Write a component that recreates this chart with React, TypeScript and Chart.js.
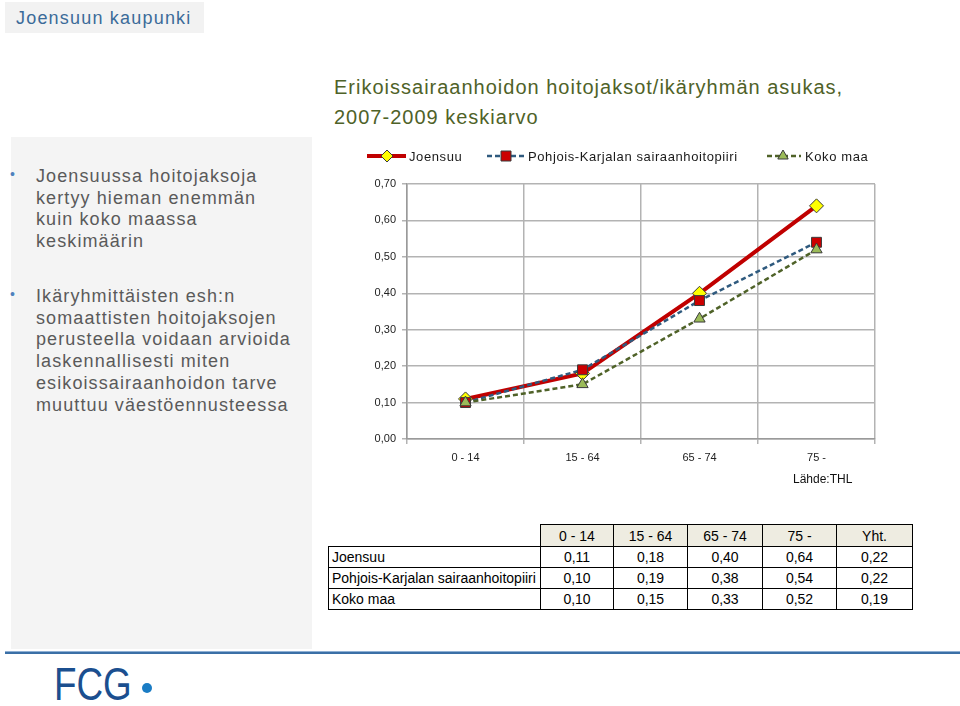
import React, { useEffect, useRef } from 'react';
import { Chart, registerables } from 'chart.js';

Chart.register(...registerables);

// ---------- data ----------
const categories = ['0 - 14', '15 - 64', '65 - 74', '75 -'];
const seriesNames = ['Joensuu', 'Pohjois-Karjalan sairaanhoitopiiri', 'Koko maa'];
const joensuuValues = [0.11, 0.18, 0.4, 0.64];
const pohjoisValues = [0.1, 0.19, 0.38, 0.54];
const kokoMaaValues = [0.1, 0.15, 0.33, 0.52];
const totalLabel = 'Yht.';
const joensuuTotal = 0.22;
const pohjoisTotal = 0.22;
const kokoMaaTotal = 0.19;
const yMin = 0;
const yMax = 0.7;
const yStep = 0.1;

const titleLines = ['Erikoissairaanhoidon hoitojaksot/ikäryhmän asukas,', '2007-2009 keskiarvo'];
const bullet1 = ['Joensuussa hoitojaksoja', 'kertyy hieman enemmän', 'kuin koko maassa', 'keskimäärin'];
const bullet2 = [
  'Ikäryhmittäisten esh:n',
  'somaattisten hoitojaksojen',
  'perusteella voidaan arvioida',
  'laskennallisesti miten',
  'esikoissairaanhoidon tarve',
  'muuttuu väestöennusteessa',
];
const sourceText = 'Lähde:THL';
const headerText = 'Joensuun kaupunki';

const fmt = (v: number) => v.toFixed(2).replace('.', ',');

const RED = '#c00000';
const BLUE_DASH = '#2f5a7e';
const OLIVE_DASH = '#4f6228';
const YELLOW = '#ffff00';
const SQ_RED = '#cc0000';
const TRI_GREEN = '#9bbb59';
const MARK_BORDER = '#3a3a3a';
const FONT = '"Liberation Sans", Arial, sans-serif';

function drawDiamond(ctx: CanvasRenderingContext2D, x: number, y: number, r: number) {
  ctx.beginPath();
  ctx.moveTo(x, y - r);
  ctx.lineTo(x + r, y);
  ctx.lineTo(x, y + r);
  ctx.lineTo(x - r, y);
  ctx.closePath();
  ctx.fillStyle = YELLOW;
  ctx.fill();
  ctx.lineWidth = 1;
  ctx.strokeStyle = MARK_BORDER;
  ctx.stroke();
}
function drawSquare(ctx: CanvasRenderingContext2D, x: number, y: number, h: number) {
  ctx.beginPath();
  ctx.rect(x - h, y - h, 2 * h, 2 * h);
  ctx.fillStyle = SQ_RED;
  ctx.fill();
  ctx.lineWidth = 1;
  ctx.strokeStyle = MARK_BORDER;
  ctx.stroke();
}
function drawTriangle(ctx: CanvasRenderingContext2D, x: number, y: number, r: number) {
  ctx.beginPath();
  let a = 0;
  ctx.moveTo(x + Math.sin(a) * r, y - Math.cos(a) * r);
  a += (2 * Math.PI) / 3;
  ctx.lineTo(x + Math.sin(a) * r, y - Math.cos(a) * r);
  a += (2 * Math.PI) / 3;
  ctx.lineTo(x + Math.sin(a) * r, y - Math.cos(a) * r);
  ctx.closePath();
  ctx.fillStyle = TRI_GREEN;
  ctx.fill();
  ctx.lineWidth = 1;
  ctx.strokeStyle = MARK_BORDER;
  ctx.stroke();
}

const legendPlugin = {
  id: 'excelLegend',
  afterDraw(chart: any) {
    const ctx: CanvasRenderingContext2D = chart.ctx;
    ctx.save();
    const y = 16;
    // Joensuu
    ctx.setLineDash([]);
    ctx.strokeStyle = RED;
    ctx.lineWidth = 4;
    ctx.beginPath();
    ctx.moveTo(47, y);
    ctx.lineTo(86, y);
    ctx.stroke();
    drawDiamond(ctx, 67, y, 6);
    // Pohjois
    ctx.strokeStyle = BLUE_DASH;
    ctx.lineWidth = 2.5;
    ctx.setLineDash([5, 3]);
    ctx.beginPath();
    ctx.moveTo(167, y);
    ctx.lineTo(205, y);
    ctx.stroke();
    ctx.setLineDash([]);
    drawSquare(ctx, 186, y, 5);
    // Koko maa
    ctx.strokeStyle = OLIVE_DASH;
    ctx.lineWidth = 2.5;
    ctx.setLineDash([5, 3]);
    ctx.beginPath();
    ctx.moveTo(447, y);
    ctx.lineTo(481, y);
    ctx.stroke();
    ctx.setLineDash([]);
    drawTriangle(ctx, 463, y, 6);

    ctx.fillStyle = '#1a1a1a';
    ctx.font = '13px ' + FONT;
    (ctx as any).letterSpacing = '0.6px';
    ctx.textBaseline = 'middle';
    ctx.textAlign = 'left';
    ctx.fillText(seriesNames[0], 89, y + 1);
    ctx.fillText(seriesNames[1], 208, y + 1);
    ctx.fillText(seriesNames[2], 485, y + 1);
    ctx.restore();
  },
};

function LineChart() {
  const ref = useRef<HTMLCanvasElement | null>(null);
  useEffect(() => {
    if (!ref.current) return;
    const lineBase = { pointRadius: 0, pointHoverRadius: 0, fill: false, tension: 0 };
    const markBase = { showLine: false, borderWidth: 1, borderColor: MARK_BORDER, pointBorderColor: MARK_BORDER, pointBorderWidth: 1 };
    const chart = new Chart(ref.current, {
      type: 'line',
      data: {
        labels: categories,
        datasets: [
          { ...markBase, label: seriesNames[2] + ' m', data: kokoMaaValues, pointStyle: 'triangle', pointRadius: 6.5, pointBackgroundColor: TRI_GREEN, order: 0 },
          { ...markBase, label: seriesNames[1] + ' m', data: pohjoisValues, pointStyle: 'rect', pointRadius: 7, pointBackgroundColor: SQ_RED, order: 1 },
          { ...markBase, label: seriesNames[0] + ' m', data: joensuuValues, pointStyle: 'rectRot', pointRadius: 7, pointBackgroundColor: YELLOW, order: 2 },
          { ...lineBase, label: seriesNames[2], data: kokoMaaValues, borderColor: OLIVE_DASH, borderWidth: 2.5, borderDash: [5, 3], order: 3 },
          { ...lineBase, label: seriesNames[1], data: pohjoisValues, borderColor: BLUE_DASH, borderWidth: 2.5, borderDash: [5, 3], order: 4 },
          { ...lineBase, label: seriesNames[0], data: joensuuValues, borderColor: RED, borderWidth: 4, order: 5 },
        ] as any,
      },
      options: {
        animation: false,
        responsive: false,
        events: [],
        layout: { padding: { top: 44, right: 25, left: 0, bottom: 0 } },
        plugins: { legend: { display: false }, tooltip: { enabled: false } },
        scales: {
          x: {
            type: 'category',
            offset: true,
            grid: { offset: true, color: '#b3b3b3', lineWidth: 1.5, tickLength: 5, drawTicks: true },
            border: { color: '#9a9a9a', width: 1.5 },
            ticks: { font: { family: FONT, size: 11 }, color: '#222', padding: 7, maxRotation: 0 },
            afterFit: (s: any) => {
              s.height = 61;
            },
          },
          y: {
            min: yMin,
            max: yMax,
            grid: { color: '#b3b3b3', lineWidth: 1.5, tickLength: 5 },
            border: { color: '#9a9a9a', width: 1.5 },
            ticks: {
              stepSize: yStep,
              font: { family: FONT, size: 11 },
              color: '#222',
              padding: 6,
              callback: (v: any) => fmt(Number(v)),
            },
            afterFit: (s: any) => {
              s.width = 87;
            },
          },
        },
      } as any,
      plugins: [legendPlugin],
    });
    return () => chart.destroy();
  }, []);
  return (
    <canvas
      ref={ref}
      width={580}
      height={360}
      style={{ position: 'absolute', left: 320, top: 140, width: 580, height: 360 }}
    />
  );
}

export default function App() {
  const rows: [string, number[], number][] = [
    [seriesNames[0], joensuuValues, joensuuTotal],
    [seriesNames[1], pohjoisValues, pohjoisTotal],
    [seriesNames[2], kokoMaaValues, kokoMaaTotal],
  ];
  const colWidths = [212, 73, 74, 75, 74, 76];
  const cellBorder = '1px solid #000';
  const panelText: React.CSSProperties = {
    position: 'absolute',
    left: 36,
    fontFamily: FONT,
    fontSize: 18,
    lineHeight: '21.7px',
    letterSpacing: '1.1px',
    color: '#5a5a5a',
    whiteSpace: 'nowrap',
  };
  const bulletStyle: React.CSSProperties = {
    position: 'absolute',
    left: 10,
    fontFamily: FONT,
    fontSize: 14,
    color: '#4f81bd',
    lineHeight: '14px',
  };
  return (
    <div style={{ position: 'absolute', left: 0, top: 0, width: 960, height: 706, background: '#fff', overflow: 'hidden' }}>
      {/* header box */}
      <div style={{ position: 'absolute', left: 5, top: 2, width: 199, height: 31, background: '#f2f2f2' }} />
      <div
        style={{
          position: 'absolute',
          left: 16,
          top: 7,
          fontFamily: FONT,
          fontSize: 18,
          lineHeight: '22px',
          letterSpacing: '1.2px',
          color: '#3b6b99',
          whiteSpace: 'nowrap',
        }}
      >
        {headerText}
      </div>

      {/* left panel */}
      <div style={{ position: 'absolute', left: 11, top: 137, width: 301, height: 512, background: '#f4f4f4' }} />
      <div style={{ ...bulletStyle, top: 167 }}>•</div>
      <div style={{ ...panelText, top: 166 }}>
        {bullet1.map((l, i) => (
          <div key={i}>{l}</div>
        ))}
      </div>
      <div style={{ ...bulletStyle, top: 287 }}>•</div>
      <div style={{ ...panelText, top: 286 }}>
        {bullet2.map((l, i) => (
          <div key={i}>{l}</div>
        ))}
      </div>

      {/* title */}
      <div
        style={{
          position: 'absolute',
          left: 334,
          top: 72,
          fontFamily: FONT,
          fontSize: 20,
          lineHeight: '30px',
          letterSpacing: '1px',
          color: '#4f6228',
          whiteSpace: 'nowrap',
        }}
      >
        {titleLines.map((l, i) => (
          <div key={i}>{l}</div>
        ))}
      </div>

      <LineChart />

      {/* source */}
      <div
        style={{
          position: 'absolute',
          left: 793,
          top: 472,
          fontFamily: FONT,
          fontSize: 12,
          lineHeight: '14px',
          color: '#111',
          whiteSpace: 'nowrap',
        }}
      >
        {sourceText}
      </div>

      {/* table */}
      <table
        style={{
          position: 'absolute',
          left: 328,
          top: 524,
          borderCollapse: 'collapse',
          tableLayout: 'fixed',
          width: colWidths.reduce((a, b) => a + b, 0),
          fontFamily: FONT,
          fontSize: 14,
          color: '#000',
        }}
      >
        <colgroup>
          {colWidths.map((w, i) => (
            <col key={i} style={{ width: w }} />
          ))}
        </colgroup>
        <tbody>
          <tr style={{ height: 22 }}>
            <td style={{ border: 'none', padding: 0 }} />
            {[...categories, totalLabel].map((c, i) => (
              <td key={i} style={{ border: cellBorder, background: '#eeece1', textAlign: 'center', padding: 0, lineHeight: '20px' }}>
                {c}
              </td>
            ))}
          </tr>
          {rows.map(([name, vals, tot], r) => (
            <tr key={r} style={{ height: 21 }}>
              <td style={{ border: cellBorder, padding: '0 0 0 3px', whiteSpace: 'nowrap', lineHeight: '19px' }}>{name}</td>
              {[...vals, tot].map((v, i) => (
                <td key={i} style={{ border: cellBorder, textAlign: 'center', padding: 0, lineHeight: '19px' }}>
                  {fmt(v)}
                </td>
              ))}
            </tr>
          ))}
        </tbody>
      </table>

      {/* bottom rule */}
      <div style={{ position: 'absolute', left: 5, top: 651, width: 955, height: 1, background: '#8fb0d4' }} />
      <div style={{ position: 'absolute', left: 5, top: 652, width: 955, height: 2, background: '#3a6fa6' }} />

      {/* logo */}
      <div
        style={{
          position: 'absolute',
          left: 54,
          top: 661,
          fontFamily: FONT,
          fontSize: 46,
          lineHeight: '46px',
          color: '#1b4f8f',
          whiteSpace: 'nowrap',
          transform: 'scaleX(0.8)',
          transformOrigin: '0 0',
        }}
      >
        FCG
      </div>
      <div style={{ position: 'absolute', left: 142, top: 683, width: 10, height: 10, borderRadius: 5, background: '#1a7cc4' }} />
    </div>
  );
}
